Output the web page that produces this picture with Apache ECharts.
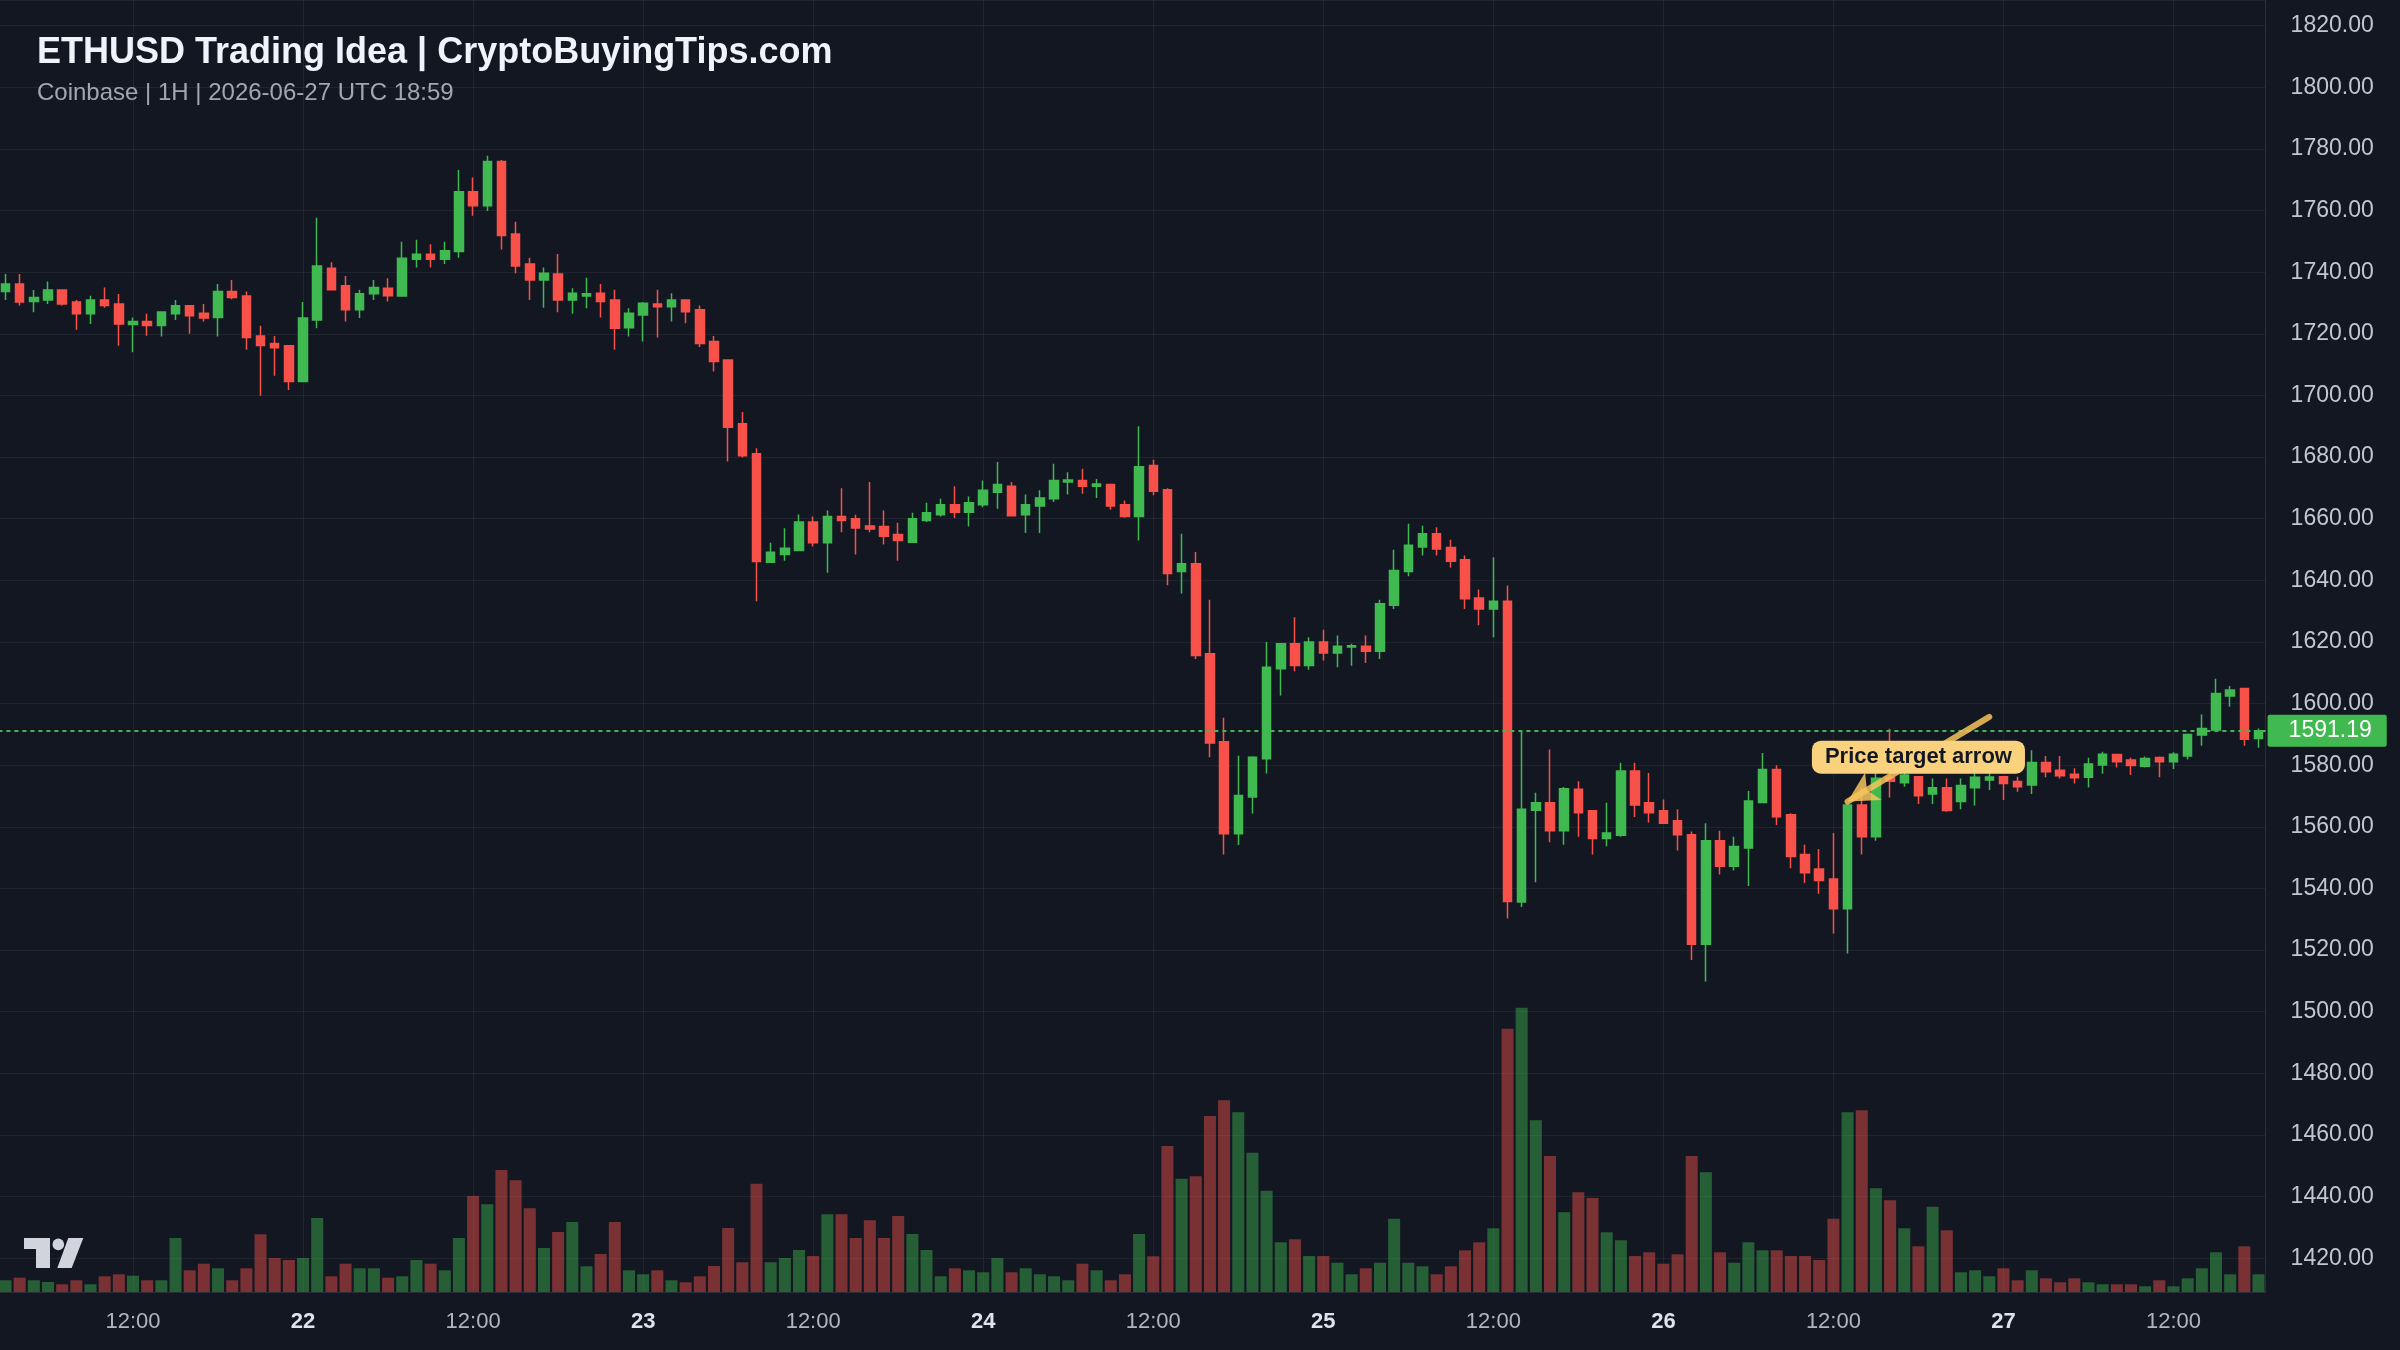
<!DOCTYPE html>
<html>
<head>
<meta charset="utf-8">
<title>ETHUSD Trading Idea</title>
<script src="https://cdn.jsdelivr.net/npm/echarts@6/dist/echarts.min.js"></script>
<style>
  html, body { margin: 0; padding: 0; background: #131722; }
  #chart { width: 2400px; height: 1350px; }
</style>
</head>
<body>
<div id="chart"></div>
<script>
// ETHUSD 1H candles (Coinbase), 2026-06-21 03:00 -> 2026-06-27 18:00 UTC
const startTime = Date.UTC(2026, 5, 21, 3);

const opens = [
  1733.7, 1736.2, 1730.5, 1731.0, 1734.2, 1730.3, 1726.5, 1731.0, 1729.7, 1723.0,
  1724.0, 1722.7, 1726.5, 1729.1, 1726.7, 1725.3, 1733.7, 1732.3, 1719.3, 1716.9,
  1716.1, 1704.5, 1724.5, 1741.3, 1735.6, 1727.8, 1733.0, 1734.8, 1732.3, 1744.2,
  1745.8, 1744.2, 1746.7, 1766.1, 1761.6, 1775.9, 1752.4, 1742.7, 1737.5, 1739.4,
  1731.0, 1732.3, 1733.2, 1731.0, 1722.0, 1726.1, 1729.7, 1728.8, 1731.0, 1727.8,
  1717.5, 1711.5, 1690.8, 1681.1, 1645.9, 1648.4, 1649.7, 1658.9, 1652.2, 1660.7,
  1660.0, 1657.6, 1657.5, 1654.9, 1652.4, 1659.4, 1661.3, 1664.5, 1662.1, 1664.5,
  1668.6, 1670.5, 1661.3, 1664.1, 1666.5, 1671.9, 1672.4, 1670.5, 1671.1, 1664.5,
  1660.7, 1677.3, 1669.4, 1642.9, 1645.4, 1616.2, 1587.6, 1557.8, 1569.7, 1582.1,
  1611.3, 1619.4, 1612.4, 1620.0, 1616.4, 1618.4, 1618.6, 1617.0, 1631.9, 1642.9,
  1650.8, 1655.1, 1650.7, 1646.7, 1634.3, 1630.7, 1633.2, 1535.6, 1565.4, 1567.8,
  1558.7, 1572.2, 1565.2, 1556.2, 1557.3, 1578.1, 1567.8, 1565.2, 1562.0, 1557.4,
  1521.9, 1555.5, 1547.2, 1553.1, 1567.9, 1578.6, 1563.9, 1551.0, 1546.3, 1543.1,
  1533.4, 1567.1, 1556.8, 1576.0, 1574.3, 1576.3, 1570.7, 1572.7, 1568.2, 1572.7,
  1575.2, 1576.3, 1574.7, 1573.6, 1580.9, 1578.4, 1577.1, 1576.1, 1580.1, 1583.5,
  1581.7, 1579.7, 1582.5, 1581.1, 1583.0, 1589.8, 1591.4, 1602.5, 1604.9, 1588.7
];
const closes = [
  1736.2, 1730.3, 1731.8, 1734.2, 1729.7, 1726.5, 1731.0, 1729.2, 1723.2, 1724.0,
  1722.7, 1727.1, 1729.1, 1725.9, 1725.1, 1733.7, 1731.8, 1718.8, 1716.2, 1715.5,
  1704.5, 1725.1, 1742.0, 1734.3, 1727.8, 1733.0, 1735.0, 1732.4, 1744.5, 1745.8,
  1744.2, 1747.0, 1766.1, 1761.6, 1775.9, 1751.9, 1742.0, 1737.5, 1739.7, 1731.0,
  1733.2, 1733.0, 1730.5, 1721.8, 1726.7, 1729.9, 1728.8, 1731.0, 1727.2, 1716.9,
  1711.0, 1689.7, 1680.4, 1646.1, 1649.1, 1650.4, 1658.9, 1652.2, 1660.7, 1659.4,
  1657.0, 1656.7, 1654.3, 1652.9, 1660.0, 1661.9, 1664.5, 1662.1, 1665.2, 1669.2,
  1671.1, 1661.0, 1664.5, 1666.7, 1672.4, 1672.6, 1670.5, 1671.3, 1664.1, 1660.7,
  1676.9, 1668.9, 1642.2, 1645.4, 1615.6, 1587.2, 1557.8, 1570.2, 1582.6, 1611.8,
  1619.4, 1612.4, 1620.0, 1616.4, 1618.6, 1618.8, 1617.0, 1632.4, 1643.2, 1651.4,
  1655.1, 1650.2, 1646.2, 1634.0, 1630.7, 1633.2, 1535.8, 1565.7, 1567.8, 1558.7,
  1572.4, 1564.6, 1556.2, 1558.0, 1578.1, 1567.1, 1564.6, 1561.2, 1557.4, 1521.9,
  1555.5, 1547.2, 1553.6, 1568.4, 1578.6, 1563.3, 1550.4, 1545.1, 1542.6, 1533.4,
  1567.1, 1556.8, 1575.8, 1574.8, 1576.8, 1570.1, 1572.7, 1565.3, 1573.4, 1576.1,
  1576.2, 1574.1, 1573.0, 1580.9, 1577.9, 1576.6, 1575.9, 1580.4, 1583.6, 1581.1,
  1579.9, 1582.2, 1581.1, 1583.6, 1590.0, 1591.9, 1603.3, 1604.4, 1588.4, 1591.19
];
const lows = [
  1731.0, 1729.2, 1727.0, 1729.7, 1729.2, 1721.3, 1723.2, 1728.5, 1716.1, 1714.0,
  1719.4, 1719.1, 1724.5, 1720.0, 1724.0, 1719.1, 1731.2, 1714.8, 1699.9, 1706.4,
  1701.8, 1704.3, 1721.8, 1734.3, 1724.0, 1725.1, 1731.0, 1730.5, 1732.3, 1741.5,
  1741.5, 1742.7, 1744.7, 1758.3, 1759.9, 1747.4, 1739.7, 1731.0, 1728.5, 1727.0,
  1726.5, 1728.3, 1725.3, 1714.8, 1719.1, 1717.5, 1718.8, 1724.0, 1723.4, 1715.7,
  1707.8, 1678.6, 1679.9, 1633.2, 1645.9, 1646.4, 1649.7, 1651.0, 1642.5, 1655.6,
  1648.4, 1655.6, 1651.6, 1646.4, 1652.2, 1658.9, 1660.7, 1660.2, 1657.5, 1663.7,
  1663.2, 1661.0, 1655.4, 1655.4, 1665.4, 1667.9, 1668.1, 1666.7, 1662.9, 1660.3,
  1652.9, 1667.6, 1638.4, 1635.7, 1614.5, 1582.6, 1551.0, 1554.1, 1564.3, 1577.3,
  1602.6, 1610.5, 1611.0, 1614.0, 1611.8, 1612.3, 1613.2, 1614.5, 1630.7, 1641.3,
  1648.1, 1648.1, 1644.2, 1630.7, 1625.4, 1621.5, 1530.3, 1534.0, 1542.0, 1555.0,
  1554.2, 1556.8, 1551.0, 1553.7, 1556.8, 1563.2, 1561.4, 1560.9, 1552.3, 1516.8,
  1509.8, 1544.5, 1545.8, 1540.8, 1567.9, 1560.6, 1546.6, 1541.8, 1538.3, 1525.4,
  1518.9, 1551.0, 1555.5, 1569.5, 1573.0, 1567.4, 1567.4, 1564.9, 1565.7, 1566.9,
  1572.0, 1568.7, 1571.4, 1570.7, 1576.1, 1575.7, 1574.1, 1572.8, 1577.2, 1579.3,
  1576.8, 1579.3, 1576.1, 1578.8, 1581.9, 1586.3, 1591.4, 1599.0, 1586.3, 1585.7
];
const highs = [
  1739.4, 1739.4, 1734.2, 1737.0, 1734.4, 1731.0, 1732.4, 1735.0, 1732.9, 1725.3,
  1726.5, 1727.1, 1731.0, 1729.1, 1729.7, 1736.2, 1737.5, 1733.7, 1722.6, 1719.3,
  1716.1, 1730.3, 1757.7, 1743.2, 1738.8, 1734.3, 1737.5, 1738.0, 1749.9, 1750.5,
  1749.1, 1749.9, 1773.2, 1770.7, 1777.8, 1776.4, 1756.4, 1744.7, 1741.5, 1745.9,
  1734.8, 1738.2, 1736.2, 1734.3, 1728.3, 1730.3, 1734.3, 1733.2, 1731.0, 1729.2,
  1719.3, 1711.5, 1694.6, 1682.9, 1652.2, 1656.9, 1661.4, 1660.7, 1662.7, 1669.9,
  1661.3, 1671.9, 1662.7, 1658.7, 1661.9, 1665.2, 1666.5, 1670.5, 1667.2, 1672.4,
  1678.4, 1671.9, 1667.9, 1669.2, 1677.8, 1675.1, 1676.2, 1672.9, 1671.1, 1665.9,
  1690.0, 1679.1, 1669.9, 1655.1, 1649.2, 1633.7, 1595.4, 1583.1, 1582.9, 1620.0,
  1619.4, 1628.0, 1621.5, 1624.0, 1622.1, 1619.4, 1622.1, 1633.7, 1649.9, 1658.4,
  1657.7, 1657.2, 1653.2, 1648.1, 1637.0, 1647.5, 1638.3, 1591.0, 1571.1, 1585.1,
  1572.9, 1574.8, 1565.2, 1567.8, 1580.8, 1580.8, 1577.5, 1568.9, 1565.7, 1558.5,
  1561.2, 1558.7, 1556.8, 1571.6, 1584.0, 1580.0, 1564.4, 1554.2, 1552.8, 1558.0,
  1567.1, 1572.7, 1577.5, 1591.8, 1578.0, 1576.3, 1575.7, 1575.7, 1575.7, 1577.9,
  1577.4, 1576.3, 1576.3, 1584.9, 1583.0, 1583.0, 1579.0, 1582.4, 1584.4, 1583.6,
  1582.4, 1582.8, 1582.8, 1584.2, 1590.3, 1596.5, 1608.1, 1605.7, 1604.9, 1591.9
];
const volumes = [
  1170, 1430, 1170, 1000, 770, 1170, 770, 1570, 1770, 1630,
  1170, 1170, 5400, 2170, 2830, 2370, 1170, 2370, 5770, 3400,
  3200, 3400, 7400, 1570, 2830, 2370, 2370, 1430, 1570, 3200,
  2830, 2170, 5400, 9600, 8770, 12200, 11170, 8370, 4400, 6000,
  7000, 2570, 3800, 7000, 2170, 1770, 2170, 1170, 970, 1570,
  2600, 6400, 2970, 10830, 2970, 3400, 4200, 3600, 7770, 7770,
  5400, 7170, 5400, 7600, 5800, 4200, 1570, 2370, 2170, 1970,
  3400, 1970, 2370, 1770, 1570, 1170, 2830, 2170, 1170, 1770,
  5800, 3570, 14600, 11330, 11570, 17600, 19170, 17970, 13930, 10130,
  4970, 5270, 3600, 3600, 2930, 1770, 2370, 2930, 7330, 2930,
  2570, 1770, 2570, 4170, 4970, 6370, 26330, 28430, 17170, 13600,
  7970, 9970, 9400, 5970, 5170, 3600, 3970, 2830, 3770, 13600,
  11970, 3970, 2930, 4970, 4170, 4170, 3600, 3600, 3200, 7330,
  17970, 18170, 10370, 9170, 6370, 4570, 8530, 6170, 1970, 2170,
  1570, 2370, 1170, 2170, 1370, 970, 1370, 970, 770, 770,
  770, 570, 1170, 570, 1370, 2370, 3970, 1770, 4570, 1770
];

// annotation: arrow from tail to the top of the reversal candle
const arrowTail = ['2026-06-26 23:00', 1595.7];
const arrowTip = ['2026-06-26 13:00', 1568.2];
const noteAt = ['2026-06-26 18:00', 1582.6];
const noteText = 'Price target arrow';

const UP = '#3fb950';
const DOWN = '#f85149';
const BG = '#131722';
const GRID = 'rgba(255,255,255,0.06)';
const FONT = '"Liberation Sans", Arial, sans-serif';

const categories = opens.map((_, i) => {
  const d = new Date(startTime + i * 3600e3);
  return d.toISOString().slice(0, 13).replace('T', ' ') + ':00';
});
const candles = opens.map((o, i) => [o, closes[i], lows[i], highs[i]]);
const volumeBars = volumes.map((v, i) => ({
  value: v,
  itemStyle: { color: closes[i] >= opens[i] ? 'rgba(63,185,80,0.45)' : 'rgba(248,81,73,0.45)' }
}));
const lastPrice = closes[closes.length - 1];

const isMarkHour = (index, value) => {
  const hh = value.slice(11, 13);
  return hh === '00' || hh === '12';
};

const chart = echarts.init(document.getElementById('chart'));

const option = {
  backgroundColor: BG,
  animation: false,
  grid: {
    left: -1.6,
    right: 134.4,
    top: 0,
    bottom: 58,
    outerBoundsMode: 'none',
    containLabel: false
  },
  xAxis: {
    type: 'category',
    data: categories,
    boundaryGap: true,
    axisLine: { show: true, lineStyle: { color: '#2a2e39', width: 1 } },
    axisTick: { show: false, alignWithLabel: true },
    axisLabel: {
      interval: isMarkHour,
      margin: 19,
      fontFamily: FONT,
      fontSize: 22,
      color: '#b2b5be',
      formatter: (value) => {
        const hh = value.slice(11, 13);
        if (hh === '00') return '{day|' + Number(value.slice(8, 10)) + '}';
        return hh + ':00';
      },
      rich: {
        day: { fontFamily: FONT, fontSize: 22, fontWeight: 'bold', color: '#e0e3eb' }
      }
    },
    splitLine: {
      show: true,
      interval: isMarkHour,
      alignWithLabel: true,
      lineStyle: { color: GRID, width: 1 }
    }
  },
  yAxis: [
    {
      type: 'value',
      position: 'right',
      min: 1409.05,
      max: 1828.34,
      splitNumber: 21,
      scale: true,
      axisLine: { show: true, lineStyle: { color: '#2a2e39', width: 1 } },
      axisTick: { show: false },
      axisLabel: {
        margin: 25,
        fontFamily: FONT,
        fontSize: 23,
        color: '#c3c6ce',
        showMinLabel: false,
        showMaxLabel: false,
        formatter: (v) => v.toFixed(2)
      },
      splitLine: { show: true, lineStyle: { color: GRID, width: 1 } }
    },
    {
      type: 'value',
      show: false,
      min: 0,
      max: 129200,
      splitLine: { show: false }
    }
  ],
  series: [
    {
      name: 'Volume',
      type: 'bar',
      xAxisIndex: 0,
      yAxisIndex: 1,
      data: volumeBars,
      barWidth: 12,
      silent: true,
      z: 1
    },
    {
      name: 'ETHUSD',
      type: 'candlestick',
      xAxisIndex: 0,
      yAxisIndex: 0,
      data: candles,
      barWidth: 9,
      clip: false,
      silent: true,
      z: 3,
      itemStyle: {
        color: UP,
        color0: DOWN,
        borderColor: UP,
        borderColor0: DOWN,
        borderWidth: 1.5
      },
      markLine: {
        silent: true,
        symbol: ['none', 'none'],
        animation: false,
        z: 5,
        data: [
          {
            yAxis: lastPrice,
            lineStyle: { color: UP, type: [4, 4], width: 2 },
            label: {
              show: true,
              position: 'end',
              distance: 2,
              formatter: lastPrice.toFixed(2),
              color: '#ffffff',
              backgroundColor: UP,
              fontFamily: FONT,
              fontSize: 23,
              lineHeight: 23,
              padding: [5, 15, 4, 21],
              borderRadius: 2
            }
          },
          [
            {
              coord: arrowTail,
              symbol: 'none',
              lineStyle: { color: 'rgba(246,196,90,0.85)', width: 6, type: 'solid', cap: 'round' },
              label: { show: false }
            },
            {
              coord: arrowTip,
              symbol: 'arrow',
              symbolSize: [24, 30],
              lineStyle: { color: 'rgba(246,196,90,0.85)', width: 6, type: 'solid', cap: 'round' },
              label: { show: false }
            }
          ]
        ]
      },
      markPoint: {
        silent: true,
        animation: false,
        z: 8,
        symbol: 'rect',
        symbolSize: 1,
        itemStyle: { color: 'rgba(0,0,0,0)' },
        data: [
          {
            coord: noteAt,
            label: {
              show: true,
              position: 'inside',
              formatter: noteText,
              color: '#131722',
              fontFamily: FONT,
              fontSize: 22,
              fontWeight: 'bold',
              lineHeight: 22,
              backgroundColor: '#fad27e',
              borderRadius: 9,
              padding: [6, 13, 5, 13]
            }
          }
        ]
      }
    }
  ],
  graphic: [
    {
      type: 'text',
      silent: true,
      style: {
        x: 37, y: 53,
        text: 'ETHUSD Trading Idea | CryptoBuyingTips.com',
        font: 'bold 36px ' + FONT,
        fill: '#f0f3fa',
        align: 'left',
        verticalAlign: 'middle'
      }
    },
    {
      type: 'text',
      silent: true,
      style: {
        x: 37, y: 93,
        text: 'Coinbase | 1H | 2026-06-27 UTC 18:59',
        font: '24px ' + FONT,
        fill: '#a3a6b0',
        align: 'left',
        verticalAlign: 'middle'
      }
    },
    // TradingView mark
    {
      type: 'polygon',
      silent: true,
      shape: { points: [[24, 1238], [50, 1238], [50, 1268], [36, 1268], [36, 1249], [24, 1249]] },
      style: { fill: '#d1d4dc' }
    },
    {
      type: 'circle',
      silent: true,
      shape: { cx: 58.3, cy: 1244.4, r: 5.8 },
      style: { fill: '#d1d4dc' }
    },
    {
      type: 'polygon',
      silent: true,
      shape: { points: [[68.3, 1238], [83.3, 1238], [71.7, 1268], [57.3, 1268]] },
      style: { fill: '#d1d4dc' }
    }
  ]
};

chart.setOption(option);
</script>
</body>
</html>
